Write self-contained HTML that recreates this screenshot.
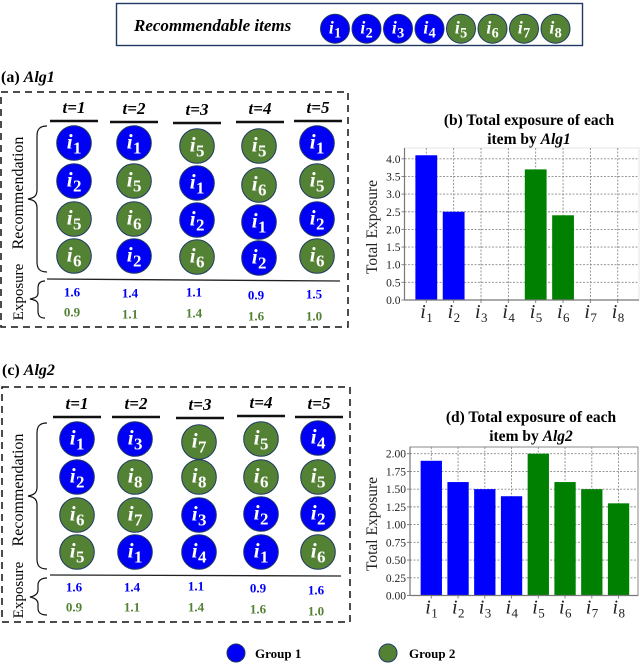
<!DOCTYPE html>
<html>
<head>
<meta charset="utf-8">
<style>
html,body{margin:0;padding:0;background:#fff;width:640px;height:664px;overflow:hidden}
svg{display:block;font-family:"Liberation Serif",serif}
.b{font-weight:bold}
.bi{font-weight:bold;font-style:italic}
</style>
</head>
<body>
<svg id="root" width="640" height="664" viewBox="0 0 640 664" xmlns="http://www.w3.org/2000/svg">
  <rect x="116.5" y="3.5" width="466" height="42" fill="#fff" stroke="#1f3864" stroke-width="1.4"/>
  <text x="134" y="31" font-size="17" class="bi">Recommendable items</text>
  <g id="top-items"></g>

  <text x="1" y="82" font-size="16" class="b">(a) <tspan font-style="italic">Alg1</tspan></text>
  <rect x="1" y="92" width="347" height="235" fill="none" stroke="#111" stroke-width="1.5" stroke-dasharray="7 5"/>
  <text transform="translate(23,193) rotate(-90)" text-anchor="middle" font-size="16">Recommendation</text>
  <text transform="translate(23,292) rotate(-90)" text-anchor="middle" font-size="15">Exposure</text>
  <path d="M47 126C40 126 37 129 37 136V190C37 196 34 198 28 199C34 200 37 202 37 208V262C37 269 40 272 47 272" fill="none" stroke="#111" stroke-width="1.2"/>
  <path d="M45 281C40 281 38 284 38 288V293C38 297 35 298 30 299C35 300 38 301 38 305V311C38 316 40 318 45 318" fill="none" stroke="#111" stroke-width="1.2"/>
  <line x1="47" y1="279" x2="340" y2="281" stroke="#222" stroke-width="1.3"/>
  <g id="panel-a"></g>

  <text x="2" y="375" font-size="16" class="b">(c) <tspan font-style="italic">Alg2</tspan></text>
  <rect x="2" y="387" width="348" height="235" fill="none" stroke="#111" stroke-width="1.5" stroke-dasharray="7 5"/>
  <text transform="translate(23,490) rotate(-90)" text-anchor="middle" font-size="16">Recommendation</text>
  <text transform="translate(23,590) rotate(-90)" text-anchor="middle" font-size="15">Exposure</text>
  <path d="M47 423C40 423 37 426 37 433V487C37 493 34 495 28 496C34 497 37 499 37 505V559C37 566 40 569 47 569" fill="none" stroke="#111" stroke-width="1.2"/>
  <path d="M47 578C41 578 38 581 38 585V590C38 594 35 596 30 597C35 598 38 600 38 604V608C38 613 41 615 47 615" fill="none" stroke="#111" stroke-width="1.2"/>
  <line x1="50" y1="575" x2="341" y2="576" stroke="#222" stroke-width="1.3"/>
  <g id="panel-c"></g>

  <text x="529" y="125" font-size="15.5" text-anchor="middle" class="b">(b) Total exposure of each</text>
  <text x="529" y="144" font-size="15.5" text-anchor="middle" class="b">item by <tspan font-style="italic">Alg1</tspan></text>
  <g id="chart-b"></g>

  <text x="531" y="422" font-size="15.5" text-anchor="middle" class="b">(d) Total exposure of each</text>
  <text x="531" y="441" font-size="15.5" text-anchor="middle" class="b">item by <tspan font-style="italic">Alg2</tspan></text>
  <g id="chart-d"></g>

  <circle cx="236" cy="653" r="9" fill="#0000f5" stroke="#1f3864" stroke-width="1"/>
  <text x="255" y="658" font-size="13" class="b">Group 1</text>
  <circle cx="388" cy="653" r="9" fill="#548235" stroke="#1f3864" stroke-width="1"/>
  <text x="409" y="658" font-size="13" class="b">Group 2</text>
</svg>
<script>
// Chart data
var itemCategories = ['1','2','3','4','5','6','7','8'];
var seriesAlg1 = [4.1, 2.5, 0, 0, 3.7, 2.4, 0, 0];
var seriesAlg2 = [1.9, 1.6, 1.5, 1.4, 2.0, 1.6, 1.5, 1.3];
var itemGroups = [1, 1, 1, 1, 2, 2, 2, 2];
var ticksAlg1 = ['0.0','0.5','1.0','1.5','2.0','2.5','3.0','3.5','4.0'];
var ticksAlg2 = ['0.00','0.25','0.50','0.75','1.00','1.25','1.50','1.75','2.00'];
var timeLabels = ['t=1','t=2','t=3','t=4','t=5'];
var recAlg1 = [[1,2,5,6],[1,5,6,2],[5,1,2,6],[5,6,1,2],[1,5,2,6]];
var recAlg2 = [[1,2,6,5],[3,8,7,1],[7,8,3,4],[5,6,2,1],[4,5,2,6]];
var exposureG1Alg1 = ['1.6','1.4','1.1','0.9','1.5'];
var exposureG2Alg1 = ['0.9','1.1','1.4','1.6','1.0'];
var exposureG1Alg2 = ['1.6','1.4','1.1','0.9','1.6'];
var exposureG2Alg2 = ['0.9','1.1','1.4','1.6','1.0'];

var NS = 'http://www.w3.org/2000/svg';
var BLUE = '#0000f5', GREEN = '#548235';

function make(parent, tag, attrs, txt) {
  var el = document.createElementNS(NS, tag);
  for (var k in attrs) el.setAttribute(k, attrs[k]);
  if (txt !== undefined) el.textContent = txt;
  parent.appendChild(el);
  return el;
}

function itemCircle(parent, cx, cy, r, item, prefix) {
  var c = make(parent, 'circle', {cx: cx, cy: cy, r: r, fill: itemGroups[item - 1] === 1 ? BLUE : GREEN, stroke: '#1f3864', 'stroke-width': 1});
  
  
  var t = make(parent, 'text', {x: cx - r * 0.42, y: cy + r * 0.32, fill: '#fff', 'font-size': r * 1.22, 'font-weight': 'bold', 'font-style': 'italic'}, 'i');
  
  
  var s = make(parent, 'text', {x: cx - r * 0.06, y: cy + r * 0.62, fill: '#fff', 'font-size': r * 0.98, 'font-weight': 'bold'}, String(item));
  
  
}

// Top row of recommendable items
var topRow = document.getElementById('top-items');
itemCategories.forEach(function (c, i) {
  itemCircle(topRow, 335 + i * 31.5, 28.7, 14.5, Number(c), 'recommendable');
});

function drawPanel(id, cfg) {
  var g = document.getElementById(id);
  timeLabels.forEach(function (label, j) {
    var x0 = cfg.lineX[j];
    var h = make(g, 'text', {x: x0 + 24, y: cfg.lineY[j] - 8, 'text-anchor': 'middle', 'font-size': 17, 'font-weight': 'bold', 'font-style': 'italic'}, label);
    
    
    var l = make(g, 'line', {x1: x0, x2: x0 + 48, y1: cfg.lineY[j], y2: cfg.lineY[j], stroke: '#111', 'stroke-width': 2.4});
    
    
    cfg.rec[j].forEach(function (item, r) {
      itemCircle(g, cfg.colX[j], cfg.rowY[j][r], 17.3, item, 'recommended');
    });
    var b = make(g, 'text', {x: cfg.expX[j], y: cfg.expY1[j] + 4.5, 'text-anchor': 'middle', 'font-size': 13, 'font-weight': 'bold', fill: BLUE}, cfg.e1[j]);
    
    
    var n = make(g, 'text', {x: cfg.expX[j], y: cfg.expY2[j] + 4.5, 'text-anchor': 'middle', 'font-size': 13, 'font-weight': 'bold', fill: GREEN}, cfg.e2[j]);
    
    
  });
}

drawPanel('panel-a', {
  rec: recAlg1, e1: exposureG1Alg1, e2: exposureG2Alg1,
  colX: [74, 134, 197, 259, 317],
  rowY: [[143,181,219,256],[143,181,219,256],[146,183,220,257],[146,185,222,258],[143,181,219,256]],
  lineX: [50, 110, 173, 236, 294], lineY: [121, 122, 123, 122, 121],
  expX: [72, 130, 194, 256, 314],
  expY1: [292, 293, 292, 295, 294], expY2: [312, 314, 313, 316, 316]
});
drawPanel('panel-c', {
  rec: recAlg2, e1: exposureG1Alg2, e2: exposureG2Alg2,
  colX: [77, 135, 199, 261, 318],
  rowY: [[439,477,515,552],[439,477,515,552],[442,477,515,552],[439,477,514,552],[438,477,514,552]],
  lineX: [53, 112, 176, 237, 295], lineY: [417, 417, 418, 416, 417],
  expX: [74, 132, 196, 258, 316],
  expY1: [587, 587, 586, 588, 590], expY2: [607, 607, 607, 609, 611]
});

function drawChart(id, cfg) {
  var g = document.getElementById(id);
  function xPos(i) { return cfg.x0 + i * cfg.step; }
  function yPos(v) { return cfg.yBase - v * cfg.yScale; }

  var bg = make(g, 'rect', {x: cfg.left, y: cfg.top, width: cfg.right - cfg.left, height: cfg.yBase - cfg.top, fill: '#fff', stroke: cfg.frame, 'stroke-width': 1});
  
  

  cfg.ticks.forEach(function (label) {
    var y = yPos(Number(label));
    var gl = make(g, 'line', {x1: cfg.left, x2: cfg.right, y1: y, y2: y, stroke: '#8a8a8a', 'stroke-width': 0.9, 'stroke-dasharray': '2 1.5'});
    
    
    var tk = make(g, 'line', {x1: cfg.left - 3, x2: cfg.left, y1: y, y2: y, stroke: '#777', 'stroke-width': 0.9});
    
    
    var tl = make(g, 'text', {x: cfg.left - 4, y: y + 4, 'text-anchor': 'end', 'font-size': 11.5, fill: '#222'}, label);
    
    
  });

  itemCategories.forEach(function (c, i) {
    var x = xPos(i);
    var gl = make(g, 'line', {x1: x, x2: x, y1: cfg.top, y2: cfg.yBase, stroke: '#8a8a8a', 'stroke-width': 0.9, 'stroke-dasharray': '2 1.5'});
    
    
  });

  cfg.values.forEach(function (v, i) {
    var bar = make(g, 'rect', {
      x: xPos(i) - cfg.barW / 2, y: yPos(v), width: cfg.barW, height: cfg.yBase - yPos(v),
      fill: itemGroups[i] === 1 ? '#0000ff' : '#008000'
    });
    
    
  });

  var axis = make(g, 'line', {x1: cfg.left, x2: cfg.right, y1: cfg.yBase, y2: cfg.yBase, stroke: '#777', 'stroke-width': 1.2});
  
  
  var yaxis = make(g, 'line', {x1: cfg.left, x2: cfg.left, y1: cfg.top, y2: cfg.yBase, stroke: '#777', 'stroke-width': 1.2});
  
  

  itemCategories.forEach(function (c, i) {
    var x = xPos(i);
    var tk = make(g, 'line', {x1: x, x2: x, y1: cfg.yBase, y2: cfg.yBase + 3, stroke: '#777', 'stroke-width': 0.9});
    
    
    var a = make(g, 'text', {x: x - 6, y: cfg.yBase + 18, 'font-size': 20, 'font-style': 'italic', fill: '#222'}, 'i');
    
    
    var s = make(g, 'text', {x: x, y: cfg.yBase + 22, 'font-size': 13, fill: '#222'}, c);
    
    
  });

  var yt = make(g, 'text', {transform: 'translate(' + cfg.titleX + ',' + cfg.titleY + ') rotate(-90)', 'text-anchor': 'middle', 'font-size': 15.5, fill: '#222'}, 'Total Exposure');
  
  
}

drawChart('chart-b', {
  values: seriesAlg1, ticks: ticksAlg1,
  left: 404.5, right: 639, top: 148, yBase: 300, yScale: 35.3,
  x0: 426.3, step: 27.35, barW: 21.8, frame: '#e4e4e4',
  titleX: 377, titleY: 227
});
drawChart('chart-d', {
  values: seriesAlg2, ticks: ticksAlg2,
  left: 410, right: 638, top: 447, yBase: 595.5, yScale: 70.9,
  x0: 431.3, step: 26.75, barW: 21.3, frame: '#8a8a8a',
  titleX: 377, titleY: 524
});
</script>
</body>
</html>
